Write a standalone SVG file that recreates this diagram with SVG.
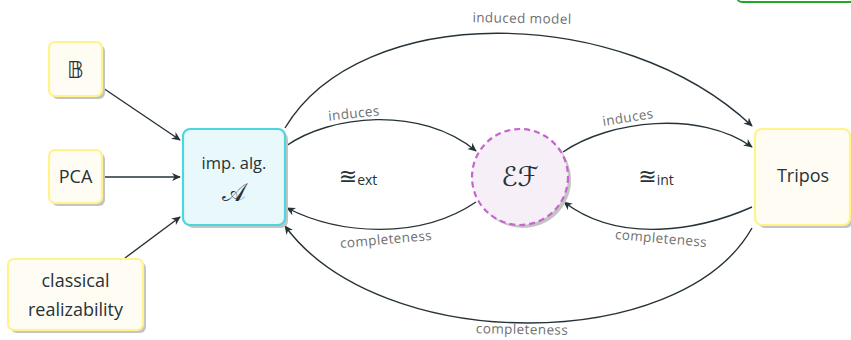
<svg xmlns="http://www.w3.org/2000/svg" width="851" height="340" viewBox="0 0 851 340">
<defs>
<style>
.shadow{fill:#c4c4c4}
.ynode{fill:#fffdf3;stroke:#fff38a;stroke-width:2.2}
.cnode{fill:#e8f8fb;stroke:#4dd6e0;stroke-width:2.2}
.enode{fill:#f7eff8;stroke:#c466cc;stroke-width:2.2;stroke-dasharray:6 4}
.t{font-family:"Open Sans","Noto Sans","DejaVu Sans",sans-serif;fill:#263238;text-anchor:middle}
.m{font-family:"DejaVu Sans","DejaVu Serif",serif;fill:#263238;text-anchor:middle}
.lbl{font-family:"Open Sans","Noto Sans","DejaVu Sans",sans-serif;fill:#6f6f6f;font-size:13.5px;letter-spacing:0.4px;text-anchor:middle}
.edge{fill:none;stroke:#263238;stroke-width:1.4;marker-end:url(#arr)}
</style>
<marker id="arr" viewBox="0 0 10 10" refX="9" refY="5" markerWidth="9" markerHeight="9" markerUnits="userSpaceOnUse" orient="auto">
<path d="M0,0.5 L10,5 L0,9.5 L3,5 z" fill="#263238"/>
</marker>
</defs>
<rect width="851" height="340" fill="#ffffff"/>
<g id="frag">
<rect x="737" y="-30" width="130" height="32" rx="5" fill="none" stroke="#22a822" stroke-width="2"/>
</g>
<g id="edges">
<path class="edge" d="M103,88 L180,140"/>
<path class="edge" d="M104,177 L180,177"/>
<path class="edge" d="M125,258 L180,217"/>
<path class="edge" d="M285,128 C360,2 620,2 752,126"/>
<path class="edge" d="M286,146 C330,115 420,105 476,151"/>
<path class="edge" d="M563,152 C610,120 700,110 752,147"/>
<path class="edge" d="M752,207 C700,230 620,245 564,202"/>
<path class="edge" d="M476,202 C420,240 340,235 287,208"/>
<path class="edge" d="M752,228 C680,355 380,355 285,226"/>
</g>
<g id="labels">
<text class="lbl" x="522" y="23" transform="rotate(1 522 19)">induced model</text>
<text class="lbl" x="354" y="118" transform="rotate(-6 354 114)">induces</text>
<text class="lbl" x="628" y="122" transform="rotate(-9 628 118)">induces</text>
<text class="lbl" x="386" y="244" transform="rotate(-5 386 240)">completeness</text>
<text class="lbl" x="661" y="243" transform="rotate(5 661 239)">completeness</text>
<text class="lbl" x="522" y="334" transform="rotate(1 522 330)">completeness</text>
<text class="m" x="358" y="184" font-size="22">≊<tspan font-family="Open Sans, sans-serif" font-size="14" dy="1">ext</tspan></text>
<text class="m" x="656" y="184" font-size="22">≊<tspan font-family="Open Sans, sans-serif" font-size="14" dy="1">int</tspan></text>
</g>
<g id="nodeB">
<rect class="shadow" x="52" y="45" width="53" height="54" rx="6"/>
<rect class="ynode" x="49" y="42" width="53" height="54" rx="6"/>
<text class="m" x="75.5" y="78" font-size="23">𝔹</text>
</g>
<g id="nodePCA">
<rect class="shadow" x="52" y="153" width="53" height="53" rx="6"/>
<rect class="ynode" x="49" y="150" width="53" height="53" rx="6"/>
<text class="t" x="75.5" y="183" font-size="18">PCA</text>
</g>
<g id="nodeClassical">
<rect class="shadow" x="11" y="262" width="135" height="71" rx="6"/>
<rect class="ynode" x="8" y="259" width="135" height="71" rx="6"/>
<text class="t" x="75.5" y="287" font-size="18">classical</text>
<text class="t" x="75.5" y="316" font-size="18">realizability</text>
</g>
<g id="nodeImp">
<rect class="shadow" x="186" y="132" width="102" height="96" rx="7"/>
<rect class="cnode" x="183" y="129" width="102" height="96" rx="7"/>
<text class="t" x="234" y="169" font-size="16.5">imp. alg.</text>
<text class="m" x="234" y="201" font-size="25">𝒜</text>
</g>
<g id="nodeEF">
<circle class="shadow" cx="523" cy="180" r="48"/>
<circle class="enode" cx="520" cy="177" r="48"/>
<text class="m" x="520" y="186" font-size="27">ℰℱ</text>
</g>
<g id="nodeTripos">
<rect class="shadow" x="758" y="132" width="95" height="96" rx="7"/>
<rect class="ynode" x="755" y="129" width="95" height="96" rx="7"/>
<text class="t" x="803" y="182" font-size="18">Tripos</text>
</g>
</svg>
